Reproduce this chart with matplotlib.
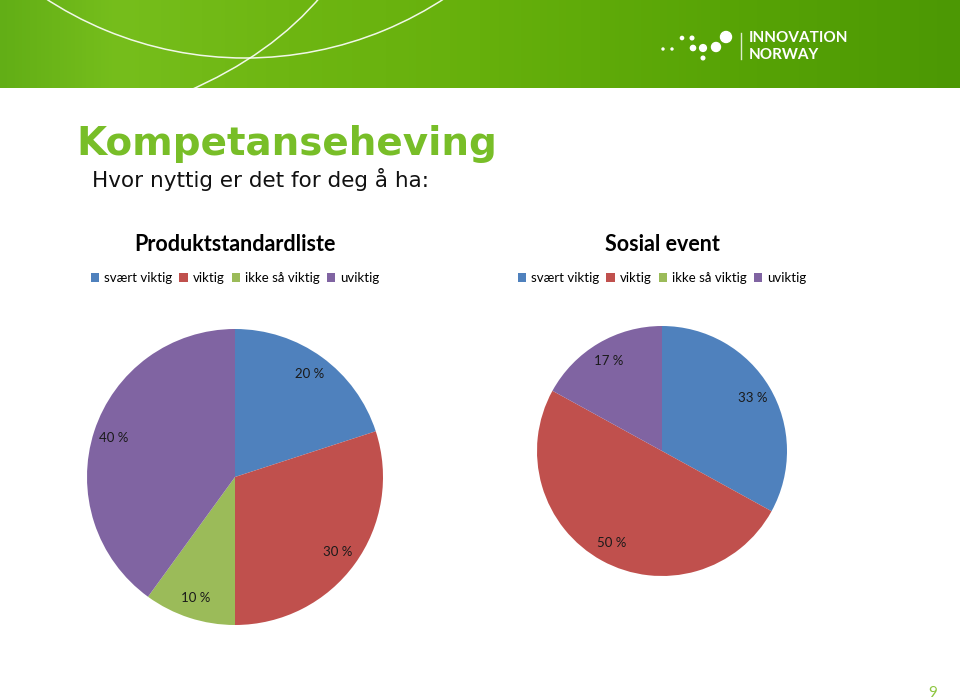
import numpy as np
import matplotlib.pyplot as plt
from matplotlib.colors import LinearSegmentedColormap
from matplotlib.patches import Arc, Circle, PathPatch
from matplotlib.path import Path

plt.rcParams['font.family'] = ['Lato', 'DejaVu Sans']

categories = ['svært viktig', 'viktig', 'ikke så viktig', 'uviktig']
produkt_values = [20, 30, 10, 40]
sosial_values = [33, 50, 0, 17]
colors = ['#4F81BD', '#C0504D', '#9BBB59', '#8064A2']

W, H = 960, 700
fig = plt.figure(figsize=(9.6, 7), dpi=100)


def px_axes(x0, y0, w, h):
    # box given in pixels, measured from the top-left corner
    return fig.add_axes([x0 / W, 1 - (y0 + h) / H, w / W, h / H])


# green header band
hdr = px_axes(0, 0, 960, 88)
grad = LinearSegmentedColormap.from_list(
    'hdr', [(0, '#62AE16'), (0.12, '#76BE1C'), (0.3, '#6EB612'),
            (0.5, '#66B00C'), (0.75, '#58A406'), (1, '#4C9804')])
hdr.imshow(np.linspace(0, 1, 256)[None, :], aspect='auto', cmap=grad,
           extent=(0, 960, 88, 0))
hdr.set_xlim(0, 960)
hdr.set_ylim(88, 0)
hdr.axis('off')
hdr.add_patch(Arc((245, -306), 728, 728, color='white', lw=1.1, alpha=0.9))
curve = Path([(322, -5), (272, 55), (186, 92)], [Path.MOVETO, Path.CURVE3, Path.CURVE3])
hdr.add_patch(PathPatch(curve, fill=False, edgecolor='white', lw=1.1, alpha=0.9))

# logo
dots = [(663, 49, 1.0), (672, 49, 1.0), (682, 38, 1.6), (692, 38, 1.8),
        (693, 48, 2.6), (703, 48, 3.4), (716, 47, 4.5), (726, 37, 5.5), (703, 58, 1.8)]
for x, y, r in dots:
    hdr.add_patch(Circle((x, y), r, color='white'))
hdr.plot([741, 741], [33, 59], color='white', lw=1, alpha=0.8)
hdr.text(749, 38, 'INNOVATION', color='white', fontsize=11, fontweight='bold', va='center')
hdr.text(749, 55, 'NORWAY', color='white', fontsize=11, fontweight='bold', va='center')

# slide titles
fig.text(76 / W, 1 - 155 / H, 'Kompetanseheving', family='DejaVu Sans', fontsize=28,
         fontweight='bold', color='#78BE28', va='baseline')
fig.text(92 / W, 1 - 187 / H, 'Hvor nyttig er det for deg å ha:', family='DejaVu Sans',
         fontsize=15.5, color='#111111', va='baseline')


def draw_pie(values, title, cx, cy, r, dist):
    ax = px_axes(cx - r, cy - r, 2 * r, 2 * r)
    wedges, _, autotexts = ax.pie(
        values, colors=colors, startangle=90, counterclock=False,
        autopct=lambda p: f'{p:.0f} %' if p > 0 else '', pctdistance=dist,
        wedgeprops=dict(linewidth=0), textprops=dict(fontsize=9.5, color='#1a1a1a'))
    ax.set_xlim(-1, 1)
    ax.set_ylim(-1, 1)
    ax.set_aspect('equal')
    fig.text(cx / W, 1 - 251 / H, title, fontsize=15.5, fontweight='bold',
             ha='center', va='baseline')
    fig.legend(wedges, categories, loc='center', bbox_to_anchor=(cx / W, 1 - 278 / H),
               ncol=4, frameon=False, fontsize=9.5, handlelength=0.65, handleheight=0.65,
               handletextpad=0.35, columnspacing=0.55)


draw_pie(produkt_values, 'Produktstandardliste', 235, 477, 148, 0.86)
draw_pie(sosial_values, 'Sosial event', 662, 451, 125, 0.84)

fig.text(933 / W, 1 - 693 / H, '9', fontsize=11, color='#8DC63F', ha='center', va='center')

fig.savefig('out.png', dpi=100)
